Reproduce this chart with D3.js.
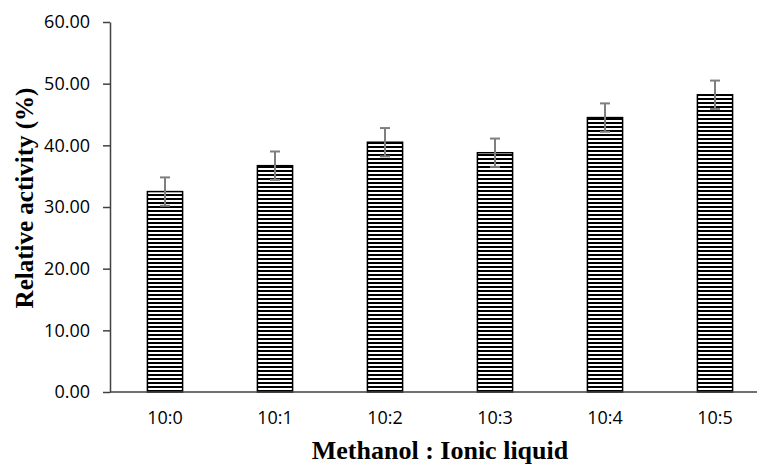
<!DOCTYPE html>
<html>
<head>
<meta charset="utf-8">
<script src="https://cdn.jsdelivr.net/npm/d3@7"></script>
<style>
  body { margin: 0; background: #fff; }
  svg { display: block; }
</style>
</head>
<body>
<svg width="759" height="465"></svg>
<script>
// data
var ratios = ["10:0", "10:1", "10:2", "10:3", "10:4", "10:5"];
var activity = [32.5, 36.7, 40.5, 38.8, 44.5, 48.2];
var errors = [2.3, 2.3, 2.3, 2.3, 2.3, 2.3];
var yTicks = [0, 10, 20, 30, 40, 50, 60];

var svg = d3.select("svg");
var plotLeft = 110, plotRight = 770, plotTop = 22, plotBottom = 392;

var x = d3.scaleBand()
    .domain(ratios)
    .range([plotLeft, plotRight])
    .paddingInner(0.68)
    .paddingOuter(0.34);

var y = d3.scaleLinear()
    .domain([0, 60])
    .range([plotBottom, plotTop]);

// horizontal stripes for the bars
var pat = svg.append("defs").append("pattern")
    .attr("id", "stripes")
    .attr("patternUnits", "userSpaceOnUse")
    .attr("width", 8)
    .attr("height", 4);
pat.append("rect").attr("width", 8).attr("height", 4).attr("fill", "#fff");
pat.append("rect").attr("y", 2).attr("width", 8).attr("height", 2).attr("fill", "#000");

// y axis
var yAxis = svg.append("g")
    .attr("transform", "translate(" + plotLeft + ",0)")
    .call(d3.axisLeft(y).tickValues(yTicks).tickSize(7).tickSizeOuter(0).tickFormat(d3.format(".2f")));
yAxis.select(".domain").attr("stroke", "#404040").attr("stroke-width", 1.5);
yAxis.selectAll(".tick line").attr("stroke", "#404040").attr("stroke-width", 1.5);
yAxis.selectAll(".tick text")
    .attr("x", -20)
    .attr("fill", "#000")
    .attr("font-family", "'Open Sans', sans-serif")
    .attr("font-size", 18);

// bars
svg.selectAll(".bar")
  .data(activity)
  .enter().append("rect")
    .attr("class", "bar")
    .attr("x", function(d, i) { return x(ratios[i]); })
    .attr("y", function(d) { return y(d); })
    .attr("width", x.bandwidth())
    .attr("height", function(d) { return y(0) - y(d); })
    .attr("fill", "url(#stripes)")
    .attr("stroke", "#000")
    .attr("stroke-width", 1.5);

// error bars
var eb = svg.selectAll(".err")
  .data(activity)
  .enter().append("g")
    .attr("class", "err")
    .attr("stroke", "#7f7f7f")
    .attr("stroke-width", 2);
eb.append("line")
    .attr("x1", function(d, i) { return x(ratios[i]) + x.bandwidth() / 2; })
    .attr("x2", function(d, i) { return x(ratios[i]) + x.bandwidth() / 2; })
    .attr("y1", function(d, i) { return y(d - errors[i]); })
    .attr("y2", function(d, i) { return y(d + errors[i]); });
[-1, 1].forEach(function(s) {
  eb.append("line")
      .attr("x1", function(d, i) { return x(ratios[i]) + x.bandwidth() / 2 - 5; })
      .attr("x2", function(d, i) { return x(ratios[i]) + x.bandwidth() / 2 + 5; })
      .attr("y1", function(d, i) { return y(d + s * errors[i]); })
      .attr("y2", function(d, i) { return y(d + s * errors[i]); });
});

// x axis
var xAxis = svg.append("g")
    .attr("transform", "translate(0," + plotBottom + ")")
    .call(d3.axisBottom(x).tickSize(0).tickPadding(19));
xAxis.select(".domain").attr("d", "M" + plotLeft + ",0H757").attr("stroke", "#404040").attr("stroke-width", 1.5);
xAxis.selectAll(".tick text")
    .attr("fill", "#000")
    .attr("font-family", "'Open Sans', sans-serif")
    .attr("font-size", 18);

// axis titles
svg.append("text")
    .attr("transform", "translate(33,198) rotate(-90)")
    .attr("text-anchor", "middle")
    .style("font-family", "'Liberation Serif', serif")
    .style("font-weight", "bold")
    .style("font-size", "25px")
    .text("Relative activity (%)");

svg.append("text")
    .attr("x", 440)
    .attr("y", 459)
    .attr("text-anchor", "middle")
    .style("font-family", "'Liberation Serif', serif")
    .style("font-weight", "bold")
    .style("font-size", "26px")
    .text("Methanol : Ionic liquid");
</script>
</body>
</html>
